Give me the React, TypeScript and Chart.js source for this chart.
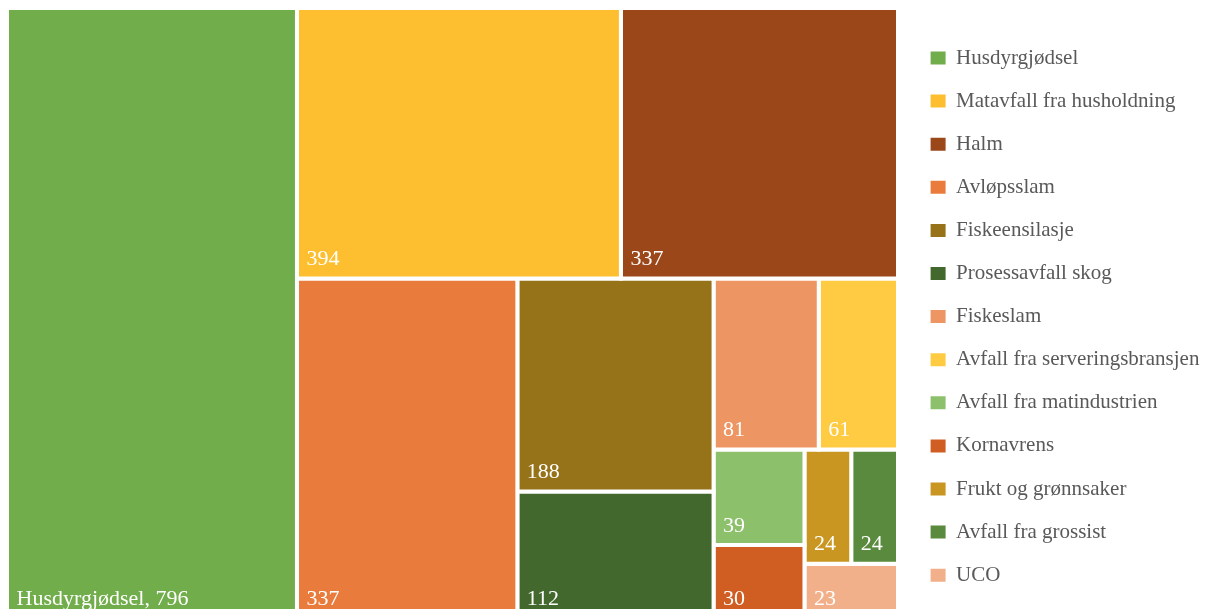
import React, { useEffect, useRef } from 'react';
import { Chart, registerables } from 'chart.js';

Chart.register(...registerables);

// ---- Data ----
const categories = [
  'Husdyrgjødsel',
  'Matavfall fra husholdning',
  'Halm',
  'Avløpsslam',
  'Fiskeensilasje',
  'Prosessavfall skog',
  'Fiskeslam',
  'Avfall fra serveringsbransjen',
  'Avfall fra matindustrien',
  'Kornavrens',
  'Frukt og grønnsaker',
  'Avfall fra grossist',
  'UCO',
];
const values = [796, 394, 337, 337, 188, 112, 81, 61, 39, 30, 24, 24, 23];
const labelShowsName = [true, false, false, false, false, false, false, false, false, false, false, false, false];
const colors = [
  '#71AD4A',
  '#FDBF2F',
  '#9C471A',
  '#E97C3C',
  '#967219',
  '#43682E',
  '#EE9663',
  '#FECB43',
  '#8CC06B',
  '#D05E22',
  '#C99622',
  '#5A8A3D',
  '#F2B08A',
];

// ---- Layout parameters (scale units) ----
const TREEMAP_W = 892;
const TREEMAP_H = 610.4;
const TARGET_ASPECT = 0.79; // preferred width/height of a cell

type Rect = { x0: number; y0: number; x1: number; y1: number };

function squarify(vals: number[], W: number, H: number, k: number): Rect[] {
  const n = vals.length;
  const rects: Rect[] = new Array(n);
  let x0 = 0, y0 = 0;
  const x1 = W, y1 = H;
  let remaining = vals.reduce((a, b) => a + b, 0);
  let i0 = 0;
  const score = (r: number) => Math.max(r / k, k / r);
  while (i0 < n) {
    const dx = x1 - x0;
    const dy = y1 - y0;
    const column = dx >= dy;
    const worstFor = (end: number) => {
      let s = 0;
      for (let j = i0; j < end; j++) s += vals[j];
      let worst = 0;
      if (column) {
        const w = (dx * s) / remaining;
        for (let j = i0; j < end; j++) {
          const h = (dy * vals[j]) / s;
          worst = Math.max(worst, score(w / h));
        }
      } else {
        const h = (dy * s) / remaining;
        for (let j = i0; j < end; j++) {
          const w = (dx * vals[j]) / s;
          worst = Math.max(worst, score(w / h));
        }
      }
      return worst;
    };
    let i1 = i0 + 1;
    let best = worstFor(i1);
    while (i1 < n) {
      const f = worstFor(i1 + 1);
      if (f > best) break;
      best = f;
      i1++;
    }
    let s = 0;
    for (let j = i0; j < i1; j++) s += vals[j];
    if (column) {
      const w = i1 === n ? dx : (dx * s) / remaining;
      let y = y0;
      for (let j = i0; j < i1; j++) {
        const h = (dy * vals[j]) / s;
        rects[j] = { x0, y0: y, x1: x0 + w, y1: y + h };
        y += h;
      }
      x0 += w;
    } else {
      const h = i1 === n ? dy : (dy * s) / remaining;
      let x = x0;
      for (let j = i0; j < i1; j++) {
        const w = (dx * vals[j]) / s;
        rects[j] = { x0: x, y0, x1: x + w, y1: y0 + h };
        x += w;
      }
      y0 += h;
    }
    remaining -= s;
    i0 = i1;
  }
  return rects;
}

const SERIF = '"Liberation Serif", "Times New Roman", Times, serif';

const cellLabels = {
  id: 'cellLabels',
  afterDatasetsDraw(chart: any) {
    const { ctx, chartArea } = chart;
    ctx.save();
    ctx.beginPath();
    ctx.rect(chartArea.left, chartArea.top, chartArea.right - chartArea.left, chartArea.bottom - chartArea.top);
    ctx.clip();
    ctx.fillStyle = '#ffffff';
    ctx.font = `22px ${SERIF}`;
    ctx.textAlign = 'left';
    ctx.textBaseline = 'alphabetic';
    chart.data.datasets.forEach((_ds: any, i: number) => {
      const pts = chart.getDatasetMeta(i).data;
      if (!pts.length) return;
      const left = Math.min(...pts.map((p: any) => p.x));
      const bottom = Math.max(...pts.map((p: any) => p.y));
      const text = labelShowsName[i] ? `${categories[i]}, ${values[i]}` : String(values[i]);
      ctx.fillText(text, left + 9.5, bottom - 13.4);
    });
    ctx.restore();
  },
};

export default function App() {
  const canvasRef = useRef<HTMLCanvasElement | null>(null);

  useEffect(() => {
    if (!canvasRef.current) return;
    const rects = squarify(values, TREEMAP_W, TREEMAP_H, TARGET_ASPECT);
    const datasets = categories.map((name, i) => {
      const r = rects[i];
      return {
        label: name,
        data: [
          { x: r.x0, y: r.y0 },
          { x: r.x1, y: r.y0 },
          { x: r.x1, y: r.y1 },
          { x: r.x0, y: r.y1 },
          { x: r.x0, y: r.y0 },
        ],
        backgroundColor: colors[i],
        borderColor: '#ffffff',
        borderWidth: 4,
        borderCapStyle: 'square',
        borderJoinStyle: 'miter',
        fill: 'shape',
        tension: 0,
        pointRadius: 0,
        pointHoverRadius: 0,
        pointHitRadius: 0,
      };
    });

    const chart = new Chart(canvasRef.current, {
      type: 'line',
      data: { datasets } as any,
      options: {
        animation: false,
        responsive: true,
        maintainAspectRatio: false,
        events: [],
        layout: { padding: { left: 7, top: 8, right: 0, bottom: 1.6 } },
        scales: {
          x: { type: 'linear', min: 0, max: TREEMAP_W, display: false },
          y: {
            type: 'linear',
            min: 0,
            max: TREEMAP_H,
            reverse: true,
            position: 'right',
            grid: { display: false },
            ticks: { display: false },
            border: { display: false },
            afterFit: (s: any) => {
              s.width = 10.5;
            },
          },
        },
        plugins: {
          tooltip: { enabled: false },
          legend: {
            position: 'right',
            align: 'start',
            title: { display: true, text: '', padding: 0, font: { size: 14.5, lineHeight: 1.2 } },
            labels: {
              boxWidth: 15,
              boxHeight: 13,
              padding: 22.1,
              color: '#595959',
              font: { family: SERIF, size: 21 },
              generateLabels: (c: any) =>
                c.data.datasets.map((ds: any, i: number) => ({
                  text: ds.label,
                  fillStyle: ds.backgroundColor,
                  strokeStyle: ds.backgroundColor,
                  lineWidth: 0,
                  fontColor: '#595959',
                  hidden: !c.isDatasetVisible(i),
                  datasetIndex: i,
                })),
            },
          },
        },
      } as any,
      plugins: [cellLabels],
    });
    return () => chart.destroy();
  }, []);

  return (
    <div style={{ position: 'fixed', left: 0, top: 0, width: 1209, height: 620, background: '#ffffff' }}>
      <canvas ref={canvasRef} />
    </div>
  );
}
